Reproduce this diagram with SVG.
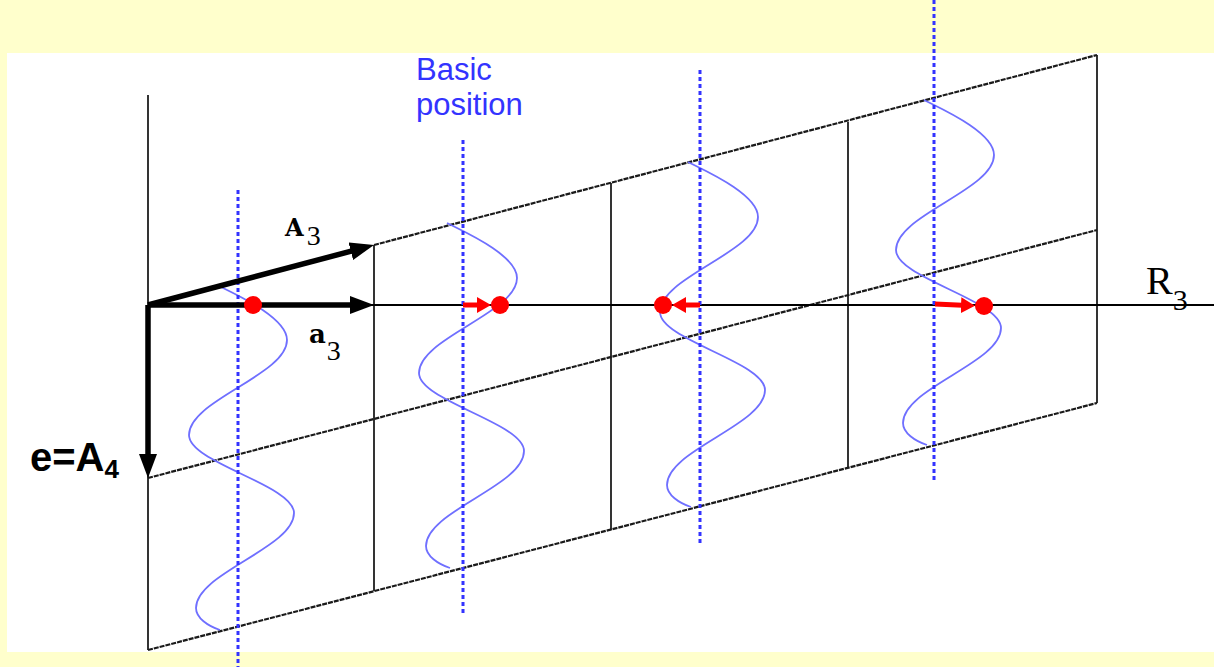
<svg xmlns="http://www.w3.org/2000/svg" xmlns:xlink="http://www.w3.org/1999/xlink" width="1214" height="667" viewBox="0 0 1214 667">
<defs>
<style>
.grid{stroke:#000;stroke-width:1.6;fill:none}
.slant{stroke:#1a1a1a;stroke-width:2.2;stroke-dasharray:5 1;fill:none}
.axis{stroke:#000;stroke-width:2;fill:none}
.bold{stroke:#000;stroke-width:5.5;fill:none}
.dot{stroke:#3333FF;stroke-width:3;stroke-dasharray:4 3;fill:none}
.wave{stroke:#6F6FFF;stroke-width:1.8;fill:none}
.red{stroke:#FF0000;stroke-width:5;fill:none}
.atom{fill:#FF0000}
.serif{font-family:"Liberation Serif","DejaVu Serif",serif;fill:#000}
.bserif{font-family:"DejaVu Serif","Liberation Serif",serif;font-weight:bold}
.sans{font-family:"Liberation Sans",Arial,sans-serif}
</style>
<marker id="bh" markerUnits="userSpaceOnUse" markerWidth="26" markerHeight="20" refX="15" refY="9" orient="auto">
<path d="M0,0 L24,9 L0,18 z" fill="#000"/>
</marker>
<marker id="rh" markerUnits="userSpaceOnUse" markerWidth="16" markerHeight="18" refX="7" refY="8" orient="auto">
<path d="M0,0 L14,8 L0,16 z" fill="#FF0000"/>
</marker>
<path id="w" class="wave" d="M217,285 C228,291 287,316 287,340 C287,375 189,400 189,435 C189,463 294,485 294,513 C294,548 196,573 196,608 C196,618 208,626 220,630"/>
</defs>
<rect x="0" y="0" width="1214" height="667" fill="#FFFFCC"/>
<rect x="7" y="53" width="1207" height="599" fill="#FFFFFF"/>

<g id="grid">
<line class="grid" x1="148" y1="95" x2="148" y2="650"/>
<line class="grid" x1="374" y1="245" x2="374" y2="591"/>
<line class="grid" x1="611" y1="183" x2="611" y2="530"/>
<line class="grid" x1="848" y1="122" x2="848" y2="468"/>
<line class="grid" x1="1097" y1="55" x2="1097" y2="403"/>
<line class="slant" x1="374" y1="245" x2="1097" y2="55"/>
<line class="slant" x1="148" y1="478" x2="1097" y2="230"/>
<line class="slant" x1="148" y1="650" x2="1097" y2="403"/>
<line class="axis" x1="148" y1="305" x2="1214" y2="305"/>
</g>

<g id="waves">
<use xlink:href="#w"/>
<use xlink:href="#w" transform="translate(230,-62)"/>
<use xlink:href="#w" transform="translate(471,-123)"/>
<use xlink:href="#w" transform="translate(707,-185)"/>
</g>

<g id="basic-lines">
<line class="dot" x1="238" y1="190" x2="238" y2="667"/>
<line class="dot" x1="463" y1="140" x2="463" y2="614"/>
<line class="dot" x1="700" y1="70" x2="700" y2="545"/>
<line class="dot" x1="934" y1="0" x2="934" y2="482"/>
</g>

<g id="connectors">
<line class="bold" x1="148" y1="305" x2="365.3" y2="247.4" marker-end="url(#bh)"/>
<line class="bold" x1="148" y1="305" x2="365" y2="305" marker-end="url(#bh)"/>
<line class="bold" x1="148" y1="305" x2="148" y2="469" marker-end="url(#bh)"/>
<line class="red" x1="463" y1="305" x2="484" y2="305" marker-end="url(#rh)"/>
<line class="red" x1="700" y1="305" x2="679" y2="305" marker-end="url(#rh)"/>
<line class="red" x1="935" y1="304" x2="968" y2="305.5" marker-end="url(#rh)"/>
</g>

<g id="atoms">
<circle class="atom" cx="253" cy="305" r="9"/>
<circle class="atom" cx="500" cy="305" r="9"/>
<circle class="atom" cx="663" cy="305" r="9"/>
<circle class="atom" cx="984" cy="306" r="9"/>
</g>

<g id="label-A3"><text class="serif" x="285" y="236" style="font-size:28px"><tspan class="bserif" style="font-size:24px">A</tspan><tspan dx="3" dy="9">3</tspan></text></g>
<g id="label-a3"><text class="serif" x="309" y="343" style="font-size:28px"><tspan class="bserif" style="font-size:26px">a</tspan><tspan dx="1" dy="17">3</tspan></text></g>
<g id="label-R3"><text class="serif" x="1146" y="294" style="font-size:40px">R<tspan dy="16" style="font-size:30px">3</tspan></text></g>
<g id="label-e"><text class="sans" x="30" y="471" font-size="40" font-weight="bold" fill="#000">e=A<tspan font-size="26" dy="7">4</tspan></text></g>
<g id="label-basic"><text class="sans" x="416" y="80" font-size="31" fill="#3333FF">Basic</text><text class="sans" x="416" y="115" font-size="31" fill="#3333FF">position</text></g>
</svg>
